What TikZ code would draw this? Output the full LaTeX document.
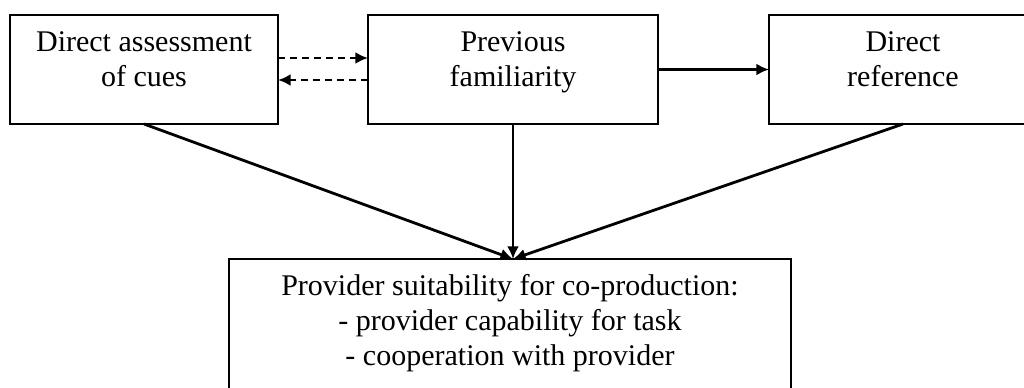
\documentclass[tikz,border=0pt]{standalone}
\usepackage{fontspec}
\setmainfont{Liberation Serif}
\usetikzlibrary{arrows.meta,calc}

% box with text set from its top edge
\newcommand{\boxtext}[3]{\parbox[c][#2][t]{#1}{\centering\fontsize{22.5pt}{26.5pt}\selectfont\rule{0pt}{27pt}#3}}

\begin{document}
\begin{tikzpicture}[x=0.75pt,y=-0.75pt,
  framebox/.style={draw,line width=1.5pt,inner sep=0pt,outer sep=0pt},
  arr/.style={line width=2.1pt,-{Latex[length=9.5pt,width=9pt]}},
  dasharr/.style={arr,dash pattern=on 5.5pt off 3.5pt}]
  \useasboundingbox (0,0) rectangle (1024,387);
  \clip (0,0) rectangle (1024,387);

  \node[framebox] (cues) at (144,69.5) {\boxtext{201pt}{81.75pt}{Direct assessment\\of cues}};
  \node[framebox] (fam) at (513,69.5) {\boxtext{217.5pt}{81.75pt}{Previous\\familiarity}};
  \node[framebox] (ref) at (903,69.5) {\boxtext{201pt}{81.75pt}{Direct\\reference}};
  \node[framebox] (suit) at (510,329) {\boxtext{421.5pt}{105pt}{Provider suitability for co-production:\\- provider capability for task\\- cooperation with provider}};

  \coordinate (meet) at (fam.south |- suit.north);

  \draw[dasharr] ($(cues.east)+(0,-11.5)$) -- ($(fam.west)+(0,-11.5)$);
  \draw[dasharr] ($(fam.west)+(0,10.5)$) -- ($(cues.east)+(0,10.5)$);
  \draw[arr] (fam.east) -- (ref.west);

  \draw[arr] (cues.south) -- (meet);
  \draw[arr] (fam.south) -- (meet);
  \draw[arr] (ref.south) -- (meet);
\end{tikzpicture}
\end{document}
